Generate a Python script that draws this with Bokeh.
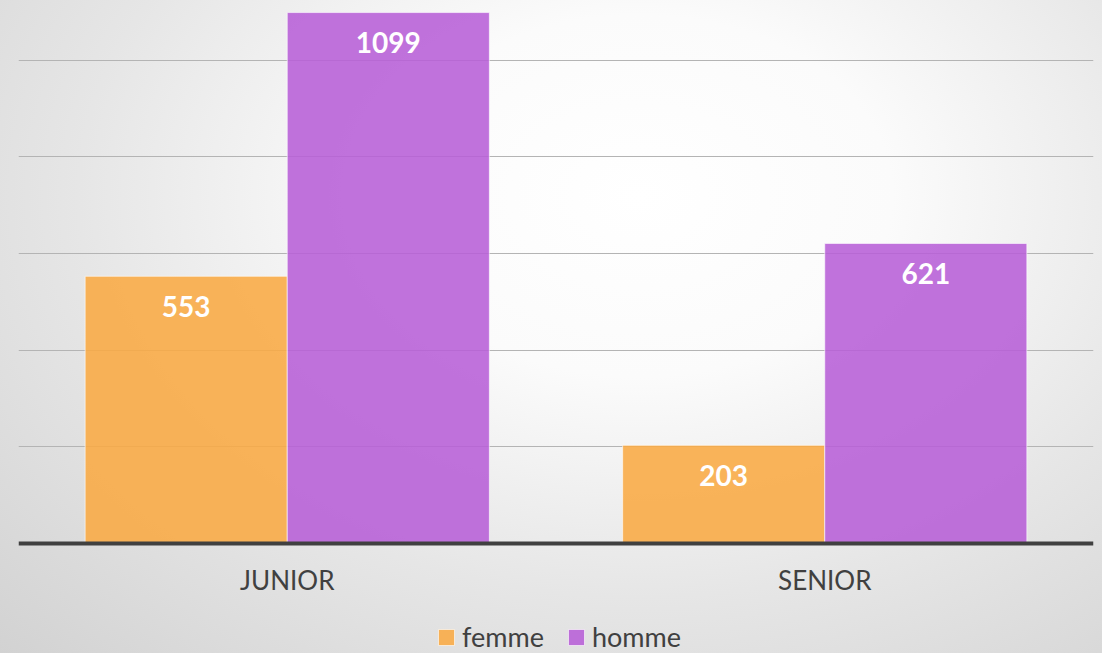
from bokeh.plotting import figure
from bokeh.models import (FactorRange, Range1d, ColumnDataSource, LabelSet, Legend,
                          LegendItem, FixedTicker)
from bokeh.core.properties import value
from bokeh.transform import dodge
from bokeh.embed import file_html
from bokeh.resources import INLINE

categories = ["JUNIOR", "SENIOR"]
femme = [553, 203]
homme = [1099, 621]
series_names = ["femme", "homme"]
grid_ticks = [200, 400, 600, 800, 1000]

FONT = "Lato"

src = ColumnDataSource(dict(
    cat=categories,
    femme=femme,
    homme=homme,
    femme_txt=[str(v) for v in femme],
    homme_txt=[str(v) for v in homme],
))

p = figure(width=1102, height=653, output_backend="svg", toolbar_location=None,
           x_range=FactorRange(*categories, range_padding=0),
           y_range=Range1d(-228, 1124),
           min_border_left=18, min_border_right=9, min_border_top=0,
           min_border_bottom=0)
p.background_fill_color = None
p.border_fill_color = None
p.outline_line_color = None
p.styles = {"background": "radial-gradient(ellipse farthest-corner at 58% 30%, "
                          "#ffffff 0%, #fbfbfb 28%, #e6e6e6 62%, #d2d2d2 100%)"}

# grid
p.xgrid.visible = False
p.ygrid.ticker = FixedTicker(ticks=grid_ticks)
p.ygrid.grid_line_color = "#b4b4b4"
p.ygrid.grid_line_width = 1
p.yaxis.visible = False

bw = 0.376
off = 0.188
rf = p.vbar(x=dodge("cat", -off, range=p.x_range), top="femme", width=bw, source=src,
            fill_color="#F9AA43", fill_alpha=0.88, line_color="#ffffff", line_alpha=0.6,
            line_width=1)
rh = p.vbar(x=dodge("cat", off, range=p.x_range), top="homme", width=bw, source=src,
            fill_color="#B75ED7", fill_alpha=0.88, line_color="#ffffff", line_alpha=0.6,
            line_width=1)

for col, o in (("femme", -off), ("homme", off)):
    p.add_layout(LabelSet(x=dodge("cat", o, range=p.x_range), y=col, text=col + "_txt",
                          source=src, y_offset=-30, text_align="center",
                          text_baseline="middle", text_color="white",
                          text_font=value(FONT), text_font_style="bold",
                          text_font_size="28px"))

ax = p.xaxis[0]
ax.fixed_location = 0
ax.axis_line_color = "#404040"
ax.axis_line_width = 4
ax.major_tick_line_color = None
ax.minor_tick_line_color = None
ax.major_tick_out = 0
ax.major_label_standoff = 21
ax.major_label_text_font = FONT
ax.major_label_text_font_size = "26px"
ax.major_label_text_color = "#404040"

legend = Legend(items=[LegendItem(label=series_names[0], renderers=[rf]),
                       LegendItem(label=series_names[1], renderers=[rh])],
                orientation="horizontal", location=(418, 0),
                label_text_font=FONT, label_text_font_size="27px",
                label_text_color="#404040", glyph_width=20, glyph_height=20,
                label_standoff=6, spacing=22, padding=0, margin=0,
                border_line_color=None, background_fill_alpha=0)
p.add_layout(legend, "center")

open("out.html", "w").write(file_html(p, INLINE))
